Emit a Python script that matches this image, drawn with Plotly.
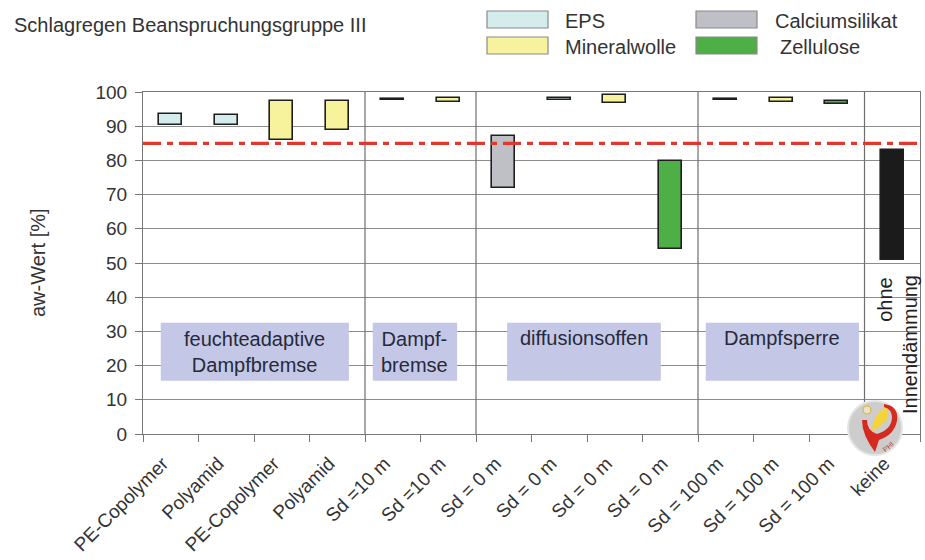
import plotly.graph_objects as go

# ---- data -------------------------------------------------------------
categories = ["PE-Copolymer", "Polyamid", "PE-Copolymer", "Polyamid",
              "Sd =10 m", "Sd =10 m",
              "Sd = 0 m", "Sd = 0 m", "Sd = 0 m", "Sd = 0 m",
              "Sd = 100 m", "Sd = 100 m", "Sd = 100 m", "keine"]
materials = ["EPS", "EPS", "Mineralwolle", "Mineralwolle",
             "EPS", "Mineralwolle",
             "Calciumsilikat", "EPS", "Mineralwolle", "Zellulose",
             "EPS", "Mineralwolle", "Zellulose", "ohne"]
aw_min = [90.4, 90.4, 86.1, 88.8, 97.6, 97.2, 71.8, 97.8, 96.8, 54.1, 97.6, 97.0, 96.5, 51.0]
aw_max = [93.6, 93.3, 97.5, 97.5, 98.0, 98.2, 87.0, 98.2, 99.2, 79.8, 98.0, 98.2, 97.3, 82.9]
threshold = 85

legend_items = ["EPS", "Mineralwolle", "Calciumsilikat", "Zellulose"]
group_labels = ["feuchteadaptive<br>Dampfbremse", "Dampf-<br>bremse", "diffusionsoffen", "Dampfsperre"]
group_separators = [3.5, 5.5, 9.5, 12.5]

colors = {"EPS": "#d5ecec", "Mineralwolle": "#f6f39c", "Calciumsilikat": "#bfbfc6",
          "Zellulose": "#4daf45", "ohne": "#1b1b1b"}

FONT = "Liberation Sans, Arial, sans-serif"
W, H = 925, 560
L, R, T, B = 143, 5, 92, 126
PW, PH = W - L - R, H - T - B


def px(x, y):
    """pixel position -> paper coordinates"""
    return (x - L) / PW, (H - B - y) / PH


fig = go.Figure()

# floating bars, one trace per material
for mat in ["EPS", "Mineralwolle", "Calciumsilikat", "Zellulose", "ohne"]:
    idx = [i for i, m in enumerate(materials) if m == mat]
    fig.add_trace(go.Bar(
        x=idx,
        y=[aw_max[i] - aw_min[i] for i in idx],
        base=[aw_min[i] for i in idx],
        width=0.42,
        marker=dict(color=colors[mat], line=dict(color="#1e1e1e", width=1.6)),
        name=mat, showlegend=False, hoverinfo="skip",
    ))

shapes = []
annotations = []

# group separators
for s in group_separators:
    shapes.append(dict(type="line", xref="x", yref="y", x0=s, x1=s, y0=0, y1=100,
                       line=dict(color="#6e6e6e", width=1.2), layer="between"))

# threshold line
shapes.append(dict(type="line", xref="paper", yref="y", x0=0, x1=1, y0=threshold, y1=threshold,
                   line=dict(color="#e3362e", width=3.2, dash="18px,6px,6px,6px"), layer="above"))

# group label boxes
boxes = [(-0.18, 3.21), (3.64, 5.16), (6.06, 8.83), (9.64, 12.4)]
for (x0, x1), lab in zip(boxes, group_labels):
    shapes.append(dict(type="rect", xref="x", yref="y", x0=x0, x1=x1, y0=15.6, y1=32.5,
                       fillcolor="#c4c8e6", line=dict(width=0), layer="above"))
    two = "<br>" in lab
    annotations.append(dict(xref="x", yref="y", x=(x0 + x1) / 2, y=24.0 if two else 28.2,
                            text=lab, showarrow=False, align="center",
                            font=dict(family=FONT, size=20, color="#262a3a")))

# rotated label in the last column
annotations.append(dict(xref="x", yref="y", x=13, xshift=-8, y=39.3, text="ohne",
                        textangle=-90, showarrow=False,
                        font=dict(family=FONT, size=20, color="#222")))
annotations.append(dict(xref="x", yref="y", x=13, xshift=17, y=26.1, text="Innendämmung",
                        textangle=-90, showarrow=False,
                        font=dict(family=FONT, size=20, color="#222")))

# title
tx, ty = px(12, 25)
annotations.append(dict(xref="paper", yref="paper", x=tx, y=ty, xanchor="left", yanchor="middle",
                        text="Schlagregen Beanspruchungsgruppe III", showarrow=False,
                        font=dict(family=FONT, size=20, color="#333")))

# y axis title
ax_, ay_ = px(38, 263)
annotations.append(dict(xref="paper", yref="paper", x=ax_, y=ay_, xanchor="center", yanchor="middle",
                        text="aw-Wert [%]", textangle=-90, showarrow=False,
                        font=dict(family=FONT, size=20, color="#333")))

# legend
legend_pos = [(487, 11, 563), (487, 37, 563), (696, 11, 773), (696, 37, 778)]
for name, (lx, ly, tx_) in zip(legend_items, legend_pos):
    x0, y1 = px(lx, ly)
    x1, y0 = px(lx + 61, ly + 17)
    shapes.append(dict(type="rect", xref="paper", yref="paper", x0=x0, x1=x1, y0=y0, y1=y1,
                       fillcolor=colors[name], line=dict(color="#8a8a8a", width=1.2)))
    tpx, tpy = px(tx_, ly + 10)
    annotations.append(dict(xref="paper", yref="paper", x=tpx, y=tpy, xanchor="left",
                            yanchor="middle", text=name, showarrow=False,
                            font=dict(family=FONT, size=20, color="#333")))


# small PHI emblem in the corner
def path(points, close=True):
    out = []
    for cmd, pts in points:
        coords = " ".join("%.5f,%.5f" % px(x, y) for x, y in pts)
        out.append(cmd + coords)
    return " ".join(out) + (" Z" if close else "")


cx0, cy1 = px(848, 401)
cx1, cy0 = px(902, 455)
shapes.append(dict(type="circle", xref="paper", yref="paper", x0=cx0, x1=cx1, y0=cy0, y1=cy1,
                   fillcolor="#cdcdcd", line=dict(color="#e4e4e4", width=2)))
shapes.append(dict(type="path", xref="paper", yref="paper",
                   path=path([("M", [(872, 431)]), ("Q", [(873, 413), (887, 407)]),
                              ("Q", [(893, 421), (872, 431)])]),
                   fillcolor="#f5d33a", line=dict(width=0)))
shapes.append(dict(type="path", xref="paper", yref="paper",
                   path=path([("M", [(884, 404)]), ("Q", [(899, 406), (897, 421)]),
                              ("Q", [(894, 435), (879, 440)]), ("L", [(875, 452), (871, 451), (874, 439)]),
                              ("Q", [(862, 435), (862, 420)]), ("L", [(867, 420)]),
                              ("Q", [(867, 431), (877, 434)]), ("Q", [(891, 430), (892, 418)]),
                              ("Q", [(892, 409), (884, 407)])]),
                   fillcolor="#d42a1f", line=dict(width=0)))
ox0, oy1 = px(863, 406)
ox1, oy0 = px(871, 414)
shapes.append(dict(type="circle", xref="paper", yref="paper", x0=ox0, x1=ox1, y0=oy0, y1=oy1,
                   fillcolor="#e8e2c8", line=dict(color="#e0b23a", width=1.2)))
lx_, ly_ = px(888, 446)
annotations.append(dict(xref="paper", yref="paper", x=lx_, y=ly_, xanchor="center", yanchor="middle",
                        text="PHI", textangle=-40, showarrow=False,
                        font=dict(family=FONT, size=7, color="#c0392b")))

fig.update_layout(
    width=W, height=H,
    margin=dict(l=L, r=R, t=T, b=B, autoexpand=False),
    paper_bgcolor="white", plot_bgcolor="white",
    barmode="overlay", bargap=0,
    shapes=shapes, annotations=annotations,
    font=dict(family=FONT, color="#333"),
    xaxis=dict(range=[-0.5, 13.5], tickmode="array", tickvals=list(range(len(categories))),
               ticktext=categories, tickangle=-45, ticks="", showgrid=False,
               tickfont=dict(family=FONT, size=19, color="#333"),
               ticklabelstandoff=10, ticklabelshift=-8,
               showline=True, linecolor="#777", linewidth=1.2, mirror=True,
               minor=dict(tickmode="array", tickvals=[i - 0.5 for i in range(len(categories) + 1)],
                          ticks="outside", ticklen=7, tickcolor="#777", tickwidth=1.2, showgrid=False),
               zeroline=False, fixedrange=True),
    yaxis=dict(range=[0, 100], tickmode="linear", tick0=0, dtick=10,
               ticks="outside", ticklen=7, tickcolor="#777", tickwidth=1.2,
               showgrid=True, gridcolor="#8c8c8c", gridwidth=1,
               showline=True, linecolor="#777", linewidth=1.2, mirror=True,
               tickfont=dict(family=FONT, size=19, color="#333"),
               ticklabelstandoff=4,
               zeroline=False, fixedrange=True),
)

fig.write_html("out.html")
